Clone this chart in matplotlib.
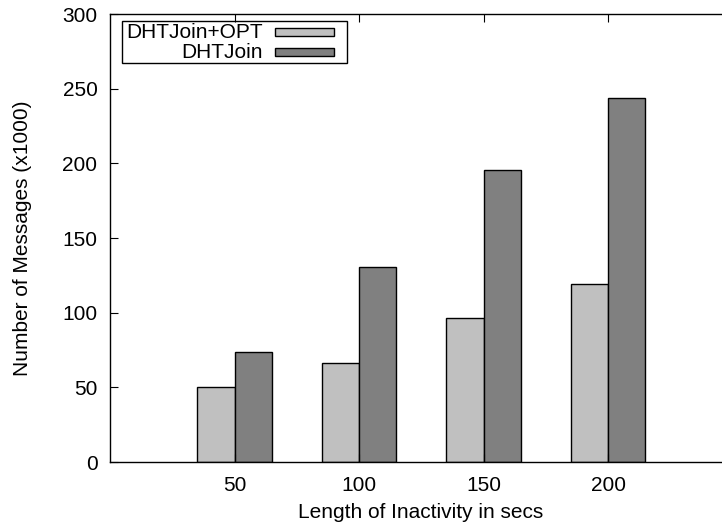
import matplotlib
matplotlib.use("Agg")
import matplotlib.pyplot as plt
from matplotlib.patches import Rectangle
import numpy as np

plt.rcParams['font.family'] = ['Liberation Sans', 'DejaVu Sans']

categories = ['50', '100', '150', '200']
opt = [50.3, 66.3, 96.2, 119.3]
dht = [73.7, 130.6, 195.4, 243.8]
labels = ['DHTJoin+OPT', 'DHTJoin']
colors = ['#c0c0c0', '#808080']

W, H = 722, 531
AW, AH = 622.5, 448  # axes box in px, right border falls just off the canvas
fig = plt.figure(figsize=(W/100, H/100), dpi=100)
ax = fig.add_axes([110/W, 69/H, AW/W, AH/H])

x = np.arange(len(categories))
w = 0.30
ax.bar(x - w/2, opt, w, color=colors[0], edgecolor='black', linewidth=1)
ax.bar(x + w/2, dht, w, color=colors[1], edgecolor='black', linewidth=1)

ax.set_xlim(-1, 4)
ax.set_ylim(0, 300)
ax.set_xticks(x)
ax.set_xticklabels(categories)
ax.set_yticks(range(0, 301, 50))
ax.tick_params(direction='in', top=True, right=True, length=6, labelsize=15)
ax.tick_params(axis='y', pad=9)
ax.tick_params(axis='x', pad=10)
for s in ax.spines.values():
    s.set_linewidth(1)

xl = ax.set_xlabel('Length of Inactivity in secs', fontsize=15)
yl = ax.set_ylabel('Number of Messages (x1000)', fontsize=15)
xl.set_va('center')
yl.set_va('center')
ax.xaxis.set_label_coords(421/W, (H - 512)/H, transform=fig.transFigure)
ax.yaxis.set_label_coords(23/W, (H - 238)/H, transform=fig.transFigure)

# gnuplot style key: right aligned text, swatch after
tr = ax.transAxes
ax.add_patch(Rectangle((12/AW, 1 - 49/AH), 225/AW, 42/AH, transform=tr,
                       fill=False, edgecolor='black', linewidth=1))
for i, (lab, c) in enumerate(zip(labels, colors)):
    yc = 1 - (18 + i * 20) / AH
    ax.text(153/AW, yc, lab, transform=tr, ha='right', va='center', fontsize=15)
    ax.add_patch(Rectangle((165/AW, yc - 4/AH), 59/AW, 8/AH, transform=tr,
                           facecolor=c, edgecolor='black', linewidth=1))

fig.savefig('out.png', dpi=100)
